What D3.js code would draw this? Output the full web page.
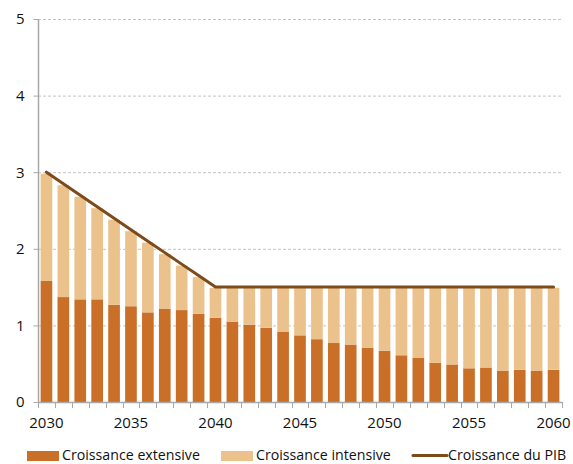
<!DOCTYPE html>
<html>
<head>
<meta charset="utf-8">
<script src="https://cdn.jsdelivr.net/npm/d3@7"></script>
<style>
  html, body { margin: 0; padding: 0; background: #fff; }
  svg { display: block; font-family: "Open Sans", "DejaVu Sans", sans-serif; }
</style>
</head>
<body>
<svg id="chart" width="573" height="464"></svg>
<script>
// Années
const years = d3.range(2030, 2061);
// Croissance extensive (partie basse des barres)
const extensive = [1.58, 1.37, 1.34, 1.34, 1.27, 1.25, 1.17, 1.22, 1.20, 1.15,
                   1.10, 1.05, 1.01, 0.97, 0.92, 0.87, 0.82, 0.77, 0.75, 0.71,
                   0.67, 0.61, 0.58, 0.51, 0.49, 0.44, 0.45, 0.41, 0.42, 0.41, 0.42];
// Croissance intensive (partie haute des barres)
const intensive = [1.40, 1.46, 1.34, 1.19, 1.11, 0.98, 0.91, 0.71, 0.58, 0.48,
                   0.39, 0.44, 0.48, 0.52, 0.57, 0.62, 0.67, 0.72, 0.74, 0.78,
                   0.82, 0.88, 0.91, 0.98, 1.00, 1.05, 1.04, 1.08, 1.07, 1.08, 1.07];
// Croissance du PIB (ligne)
const pib = [3.00, 2.85, 2.70, 2.55, 2.40, 2.25, 2.10, 1.95, 1.80, 1.65,
             1.50, 1.50, 1.50, 1.50, 1.50, 1.50, 1.50, 1.50, 1.50, 1.50,
             1.50, 1.50, 1.50, 1.50, 1.50, 1.50, 1.50, 1.50, 1.50, 1.50, 1.50];
const yTicks = [0, 1, 2, 3, 4, 5];
const xLabelYears = [2030, 2035, 2040, 2045, 2050, 2055, 2060];
const seriesNames = ["Croissance extensive", "Croissance intensive", "Croissance du PIB"];

const colors = { ext: "#c96f28", int: "#ebc28c", pib: "#7d4a1a" };

const svg = d3.select("#chart");
const m = { left: 38, right: 11, top: 19, bottom: 62 };
const W = 573, H = 464;

const x = d3.scaleBand().domain(years).range([m.left, W - m.right]).paddingInner(0.31).paddingOuter(0.155);
const y = d3.scaleLinear().domain([0, 5]).range([H - m.bottom, m.top]);

// Grille horizontale pointillée
svg.append("g").selectAll("line").data(yTicks.filter(d => d > 0)).join("line")
  .attr("x1", m.left).attr("x2", W - m.right)
  .attr("y1", d => y(d) + 0.5).attr("y2", d => y(d) + 0.5)
  .attr("stroke", "#c4c4c4").attr("stroke-width", 1).attr("stroke-dasharray", "3,2");

// Barres empilées
const stacked = years.map((yr, i) => ({ yr, ext: extensive[i], int: intensive[i] }));
const bars = svg.append("g");
bars.selectAll("rect.ext").data(stacked).join("rect").attr("class", "ext")
  .attr("x", d => x(d.yr)).attr("width", x.bandwidth())
  .attr("y", d => y(d.ext)).attr("height", d => y(0) - y(d.ext))
  .attr("fill", colors.ext);
bars.selectAll("rect.int").data(stacked).join("rect").attr("class", "int")
  .attr("x", d => x(d.yr)).attr("width", x.bandwidth())
  .attr("y", d => y(d.ext + d.int)).attr("height", d => y(d.ext) - y(d.ext + d.int))
  .attr("fill", colors.int);

// Ligne du PIB
const line = d3.line().x((d, i) => x(years[i]) + x.bandwidth() / 2).y(d => y(d));
svg.append("path").datum(pib).attr("d", line)
  .attr("fill", "none").attr("stroke", colors.pib).attr("stroke-width", 3)
  .attr("stroke-linejoin", "miter").attr("stroke-linecap", "round");

// Axe Y
const yAxis = d3.axisLeft(y).tickValues(yTicks).tickSize(5).tickPadding(9).tickFormat(d3.format("d"));
const gy = svg.append("g").attr("transform", `translate(${m.left + 0.5},0)`).call(yAxis);
gy.select(".domain").attr("stroke", "#a8a8a8").attr("stroke-width", 1.5).attr("d", `M0,${y(5)}V${y(0)}`);
gy.selectAll(".tick line").attr("stroke", "#a8a8a8");
gy.selectAll(".tick text").attr("font-size", 15).attr("fill", "#111")
  .attr("font-family", "\"Open Sans\", sans-serif");

// Axe X : traits aux limites des bandes, étiquettes tous les 5 ans
const step = x.step();
const edges = years.map(yr => x(yr) - (step - x.bandwidth()) / 2).concat([W - m.right]);
const gx = svg.append("g");
gx.append("line").attr("x1", m.left).attr("x2", W - m.right)
  .attr("y1", y(0) + 0.5).attr("y2", y(0) + 0.5).attr("stroke", "#a8a8a8").attr("stroke-width", 1.5);
gx.selectAll("line.tk").data(edges).join("line").attr("class", "tk")
  .attr("x1", d => Math.round(d) + 0.5).attr("x2", d => Math.round(d) + 0.5)
  .attr("y1", y(0)).attr("y2", y(0) + 6).attr("stroke", "#a8a8a8");
gx.selectAll("text").data(xLabelYears).join("text")
  .attr("x", d => x(d) + x.bandwidth() / 2).attr("y", y(0) + 26)
  .attr("text-anchor", "middle").attr("font-size", 15).attr("fill", "#111")
  .text(d => d);

// Légende
const leg = svg.append("g").attr("font-size", 14.2).attr("fill", "#111");
leg.append("rect").attr("x", 27).attr("y", 451).attr("width", 32).attr("height", 10).attr("fill", colors.ext);
leg.append("text").attr("x", 62).attr("y", 459.5).text(seriesNames[0]);
leg.append("rect").attr("x", 221).attr("y", 451).attr("width", 32).attr("height", 10).attr("fill", colors.int);
leg.append("text").attr("x", 256).attr("y", 459.5).text(seriesNames[1]);
leg.append("line").attr("x1", 413).attr("x2", 447).attr("y1", 455.5).attr("y2", 455.5)
  .attr("stroke", colors.pib).attr("stroke-width", 3).attr("stroke-linecap", "round");
leg.append("text").attr("x", 448).attr("y", 459.5).text(seriesNames[2]);
</script>
</body>
</html>
